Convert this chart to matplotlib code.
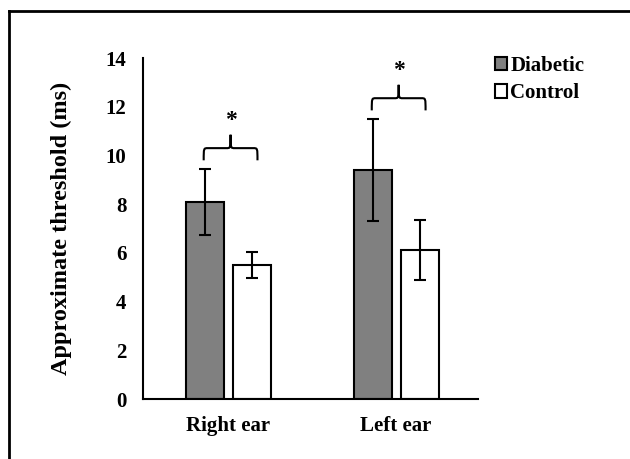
import matplotlib
matplotlib.use("Agg")
import matplotlib.pyplot as plt
from matplotlib.path import Path
from matplotlib.patches import PathPatch, Patch
from matplotlib.lines import Line2D
import numpy as np

categories = ["Right ear", "Left ear"]
diabetic = [8.1, 9.4]
diabetic_err = [1.35, 2.1]
control = [5.5, 6.1]
control_err = [0.52, 1.23]
yticks = [0, 2, 4, 6, 8, 10, 12, 14]
series_names = ["Diabetic", "Control"]

plt.rcParams["font.family"] = ["Liberation Serif", "DejaVu Serif"]
plt.rcParams["font.weight"] = "bold"

fig = plt.figure(figsize=(6.3, 4.59), dpi=100)
ax = fig.add_axes([0.227, 0.1307, 0.532, 0.7429])

x = np.arange(len(categories))
w = 0.226
off = 0.14
ax.bar(x - off, diabetic, w, color="#808080", edgecolor="black", linewidth=1.5, zorder=2)
ax.bar(x + off, control, w, color="white", edgecolor="black", linewidth=1.5, zorder=2)
ax.errorbar(x - off, diabetic, yerr=diabetic_err, fmt="none", ecolor="black",
            elinewidth=1.5, capsize=4.3, capthick=1.5, zorder=3)
ax.errorbar(x + off, control, yerr=control_err, fmt="none", ecolor="black",
            elinewidth=1.5, capsize=4.3, capthick=1.5, zorder=3)

# braces with significance stars
for i in range(len(categories)):
    top = diabetic[i] + diabetic_err[i]
    y0 = top + 0.35
    y1 = y0 + 0.5
    yp = y1 + 0.55
    xa = x[i] - off - 0.005
    xb = x[i] + off + 0.035
    xc = (xa + xb) / 2
    r = 0.025
    verts = [
        (xa, y0), (xa, y1), (xa, y1), (xa + r, y1),
        (xc - r, y1), (xc, y1), (xc, y1), (xc, yp),
        (xc, y1), (xc, y1), (xc + r, y1),
        (xb - r, y1), (xb, y1), (xb, y1), (xb, y0),
    ]
    codes = [
        Path.MOVETO, Path.CURVE4, Path.CURVE4, Path.CURVE4,
        Path.LINETO, Path.CURVE4, Path.CURVE4, Path.CURVE4,
        Path.CURVE4, Path.CURVE4, Path.CURVE4,
        Path.LINETO, Path.CURVE4, Path.CURVE4, Path.CURVE4,
    ]
    ax.add_patch(PathPatch(Path(verts, codes), fill=False, edgecolor="black",
                           linewidth=1.5, zorder=3))
    ax.text(xc, yp + 0.15, "*", ha="center", va="bottom", fontsize=17,
            fontweight="bold")

ax.set_xlim(-0.506, 1.488)
ax.set_ylim(0, 14)
ax.set_yticks(yticks)
ax.set_yticklabels([str(t) for t in yticks])
ax.set_xticks(x)
ax.set_xticklabels(categories)
ax.tick_params(axis="both", length=0, labelsize=15)
ax.tick_params(axis="y", pad=12)
ax.tick_params(axis="x", pad=12)
for s in ["top", "right"]:
    ax.spines[s].set_visible(False)
ax.spines["left"].set_linewidth(1.5)
ax.spines["bottom"].set_linewidth(1.5)
ax.set_ylabel("Approximate threshold (ms)", fontsize=17.5, fontweight="bold")
ax.yaxis.set_label_coords(-0.213, 0.5)

handles = [Patch(facecolor="#808080", edgecolor="black", linewidth=1.5),
           Patch(facecolor="white", edgecolor="black", linewidth=1.5)]
fig.legend(handles, series_names, loc="upper left", bbox_to_anchor=(0.785, 0.878),
           frameon=False, fontsize=15, handlelength=0.6, handleheight=0.6,
           handletextpad=0.15, labelspacing=0.35, borderaxespad=0, borderpad=0)

# outer frame (top and left edges visible)
fig.add_artist(Line2D([9 / 630, 1.0], [1 - 11 / 459, 1 - 11 / 459],
                      transform=fig.transFigure, color="black", linewidth=2))
fig.add_artist(Line2D([9 / 630, 9 / 630], [1 - 11 / 459, 0.0],
                      transform=fig.transFigure, color="black", linewidth=2))

fig.savefig("out.png", dpi=100)
